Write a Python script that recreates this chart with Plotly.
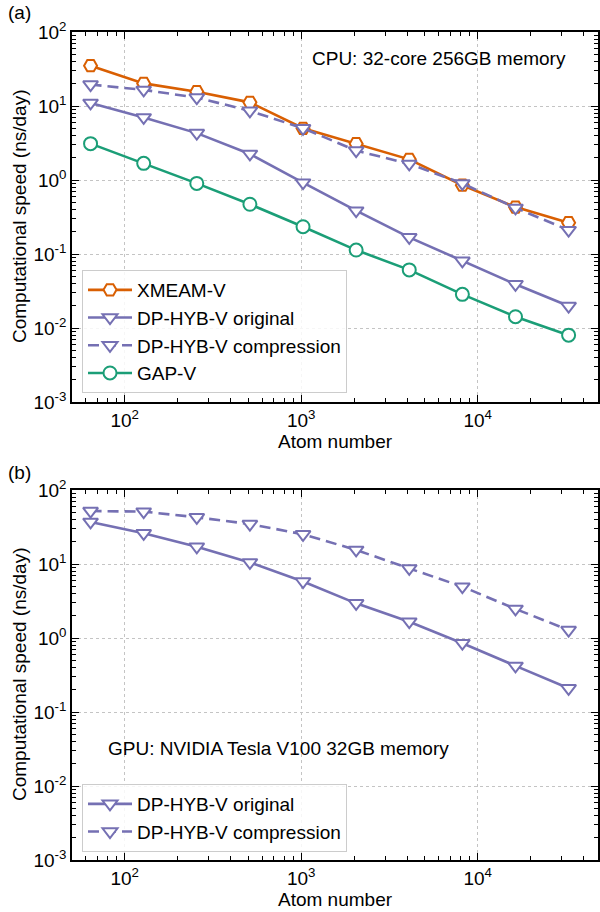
import plotly.graph_objects as go

atoms = [64, 128, 256, 512, 1024, 2048, 4096, 8192, 16384, 32768]

cpu_xmeam = [35, 20.2, 15.6, 11.2, 5.0, 3.1, 1.9, 0.85, 0.43, 0.265]
cpu_dp_orig = [11.0, 7.0, 4.3, 2.25, 0.92, 0.385, 0.168, 0.081, 0.039, 0.0198]
cpu_dp_comp = [19.5, 16.5, 13.0, 8.6, 5.0, 2.5, 1.65, 0.9, 0.42, 0.21]
cpu_gap = [3.1, 1.68, 0.9, 0.47, 0.234, 0.113, 0.061, 0.0285, 0.0142, 0.008]

gpu_dp_orig = [37, 26, 17.1, 10.5, 5.8, 2.94, 1.66, 0.85, 0.42, 0.209]
gpu_dp_comp = [52, 51, 42.8, 34.7, 25.2, 15.5, 8.7, 4.94, 2.47, 1.28]

y_tickvals = [1e-3, 1e-2, 1e-1, 1, 10, 100]
y_ticktext = ["10<sup>-3</sup>", "10<sup>-2</sup>", "10<sup>-1</sup>",
              "10<sup>0</sup>", "10<sup>1</sup>", "10<sup>2</sup>"]
x_tickvals = [100, 1000, 10000]
x_ticktext = ["10<sup>2</sup>", "10<sup>3</sup>", "10<sup>4</sup>"]

ORANGE = "#d95f02"
PURPLE = "#7570b3"
GREEN = "#1b9e77"
FONT = "Liberation Sans"
FS = 19
DASH = "11px,6px"

fig = go.Figure()

def add(x, y, name, color, symbol, dash, xa, ya, legend):
    fig.add_trace(go.Scatter(
        x=x, y=y, name=name, mode="lines+markers",
        line=dict(color=color, width=2.6, dash=dash),
        marker=dict(symbol=symbol, size=13, color="white",
                    line=dict(color=color, width=2)),
        xaxis=xa, yaxis=ya, legend=legend))

add(atoms, cpu_xmeam, "XMEAM-V", ORANGE, "hexagon2", "solid", "x", "y", "legend")
add(atoms, cpu_dp_orig, "DP-HYB-V original", PURPLE, "triangle-down", "solid", "x", "y", "legend")
add(atoms, cpu_dp_comp, "DP-HYB-V compression", PURPLE, "triangle-down", DASH, "x", "y", "legend")
add(atoms, cpu_gap, "GAP-V", GREEN, "circle", "solid", "x", "y", "legend")
add(atoms, gpu_dp_orig, "DP-HYB-V original", PURPLE, "triangle-down", "solid", "x2", "y2", "legend2")
add(atoms, gpu_dp_comp, "DP-HYB-V compression", PURPLE, "triangle-down", DASH, "x2", "y2", "legend2")

W, H = 600, 912
xdom = [72 / W, 598 / W]
ydom_a = [(H - 402) / H, (H - 32) / H]
ydom_b = [(H - 860) / H, (H - 490) / H]

def xaxis(anchor, dom):
    return dict(type="log", range=[1.701, 4.682], domain=dom, anchor=anchor,
                tickvals=x_tickvals, ticktext=x_ticktext, automargin=False,
                ticks="inside", ticklen=7, tickwidth=1.2, tickcolor="black",
                showline=True, linecolor="black", linewidth=1.5, mirror="allticks",
                showgrid=True, gridcolor="#c4c4c4", griddash="dot", gridwidth=1,
                zeroline=False,
                minor=dict(ticks="inside", ticklen=4, tickcolor="black", dtick="D1", showgrid=False),
                tickfont=dict(family=FONT, size=FS, color="black"))

def yaxis(anchor, dom):
    return dict(type="log", range=[-3, 2], domain=dom, anchor=anchor,
                tickvals=y_tickvals, ticktext=y_ticktext, automargin=False,
                ticks="inside", ticklen=7, tickwidth=1.2, tickcolor="black",
                showline=True, linecolor="black", linewidth=1.5, mirror="allticks",
                showgrid=True, gridcolor="#c4c4c4", griddash="dot", gridwidth=1,
                zeroline=False,
                minor=dict(ticks="inside", ticklen=4, tickcolor="black", dtick="D1", showgrid=False),
                tickfont=dict(family=FONT, size=FS, color="black"))

legend_style = dict(bgcolor="rgba(255,255,255,0.85)", bordercolor="#cccccc", borderwidth=1,
                    font=dict(family=FONT, size=FS, color="black"),
                    xanchor="left", yanchor="top", itemwidth=44, tracegroupgap=0)

def txt(s, x, y, xanchor="left", angle=0):
    return dict(text=s, x=x / W, y=1 - y / H, xref="paper", yref="paper",
                xanchor=xanchor, yanchor="middle", showarrow=False, textangle=angle,
                font=dict(family=FONT, size=FS, color="black"))

fig.update_layout(
    width=W, height=H, margin=dict(l=0, r=0, t=0, b=0, pad=0, autoexpand=False),
    paper_bgcolor="white", plot_bgcolor="white",
    xaxis=xaxis("y", xdom), yaxis=yaxis("x", ydom_a),
    xaxis2=xaxis("y2", xdom), yaxis2=yaxis("x2", ydom_b),
    legend=dict(x=82 / W, y=1 - 270 / H, **legend_style),
    legend2=dict(x=82 / W, y=1 - 784 / H, **legend_style),
    showlegend=True,
    annotations=[
        txt("CPU: 32-core 256GB memory", 310, 58),
        txt("GPU: NVIDIA Tesla V100 32GB memory", 106, 748),
        txt("(a)", 6, 13),
        txt("(b)", 6, 472),
        txt("Atom number", 335, 441, xanchor="center"),
        txt("Atom number", 335, 899, xanchor="center"),
        txt("Computational speed (ns/day)", 19, 217, xanchor="center", angle=-90),
        txt("Computational speed (ns/day)", 19, 675, xanchor="center", angle=-90),
    ],
)

fig.write_html("out.html", config={"displayModeBar": False},
               post_script="document.body.style.margin='0';document.body.style.padding='0';")
